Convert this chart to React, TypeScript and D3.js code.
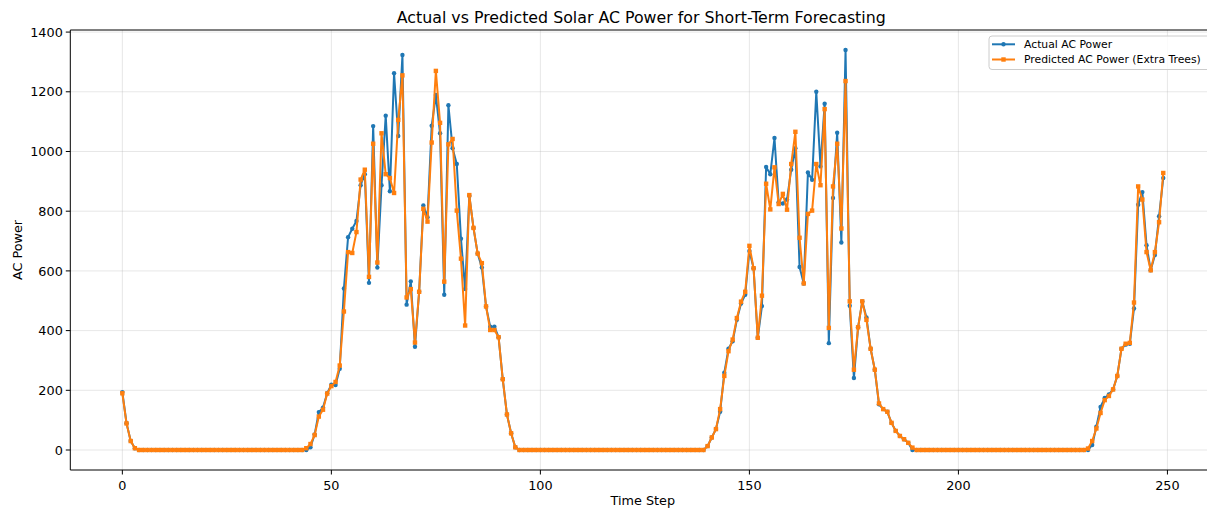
import React from "react";
import * as d3 from "d3";

// Actual AC power per time step (0..249)
const actualPower: number[] = [
  194, 90, 30, 6, 0, 0, 0, 0, 0, 0, // 0-9
  0, 0, 0, 0, 0, 0, 0, 0, 0, 0, // 10-19
  0, 0, 0, 0, 0, 0, 0, 0, 0, 0, // 20-29
  0, 0, 0, 0, 0, 0, 0, 0, 0, 0, // 30-39
  0, 0, 0, 0, 0, 9, 52, 127, 142, 190, // 40-49
  219, 218, 272, 541, 713, 741, 767, 887, 924, 560, // 50-59
  1085, 611, 887, 1120, 867, 1262, 1052, 1323, 487, 565, // 60-69
  346, 530, 819, 780, 1086, 1189, 1061, 520, 1155, 1011, // 70-79
  958, 708, 539, 852, 744, 658, 611, 481, 413, 413, // 80-89
  378, 237, 119, 56, 9, 0, 0, 0, 0, 0, // 90-99
  0, 0, 0, 0, 0, 0, 0, 0, 0, 0, // 100-109
  0, 0, 0, 0, 0, 0, 0, 0, 0, 0, // 110-119
  0, 0, 0, 0, 0, 0, 0, 0, 0, 0, // 120-129
  0, 0, 0, 0, 0, 0, 0, 0, 0, 0, // 130-139
  13, 42, 70, 128, 259, 339, 364, 436, 491, 520, // 140-149
  667, 609, 376, 482, 948, 924, 1045, 830, 826, 839, // 150-159
  939, 1011, 613, 558, 930, 905, 1200, 950, 1160, 358, // 160-169
  844, 1063, 695, 1340, 483, 241, 411, 498, 444, 339, // 170-179
  269, 153, 137, 128, 91, 64, 47, 36, 24, 0, // 180-189
  0, 0, 0, 0, 0, 0, 0, 0, 0, 0, // 190-199
  0, 0, 0, 0, 0, 0, 0, 0, 0, 0, // 200-209
  0, 0, 0, 0, 0, 0, 0, 0, 0, 0, // 210-219
  0, 0, 0, 0, 0, 0, 0, 0, 0, 0, // 220-229
  0, 0, 17, 78, 144, 174, 186, 203, 248, 339, // 230-239
  353, 356, 474, 822, 864, 686, 602, 653, 783, 911, // 240-249
];

// Predicted AC power (Extra Trees) per time step
const predictedPower: number[] = [
  190, 89, 30, 6, 0, 0, 0, 0, 0, 0, // 0-9
  0, 0, 0, 0, 0, 0, 0, 0, 0, 0, // 10-19
  0, 0, 0, 0, 0, 0, 0, 0, 0, 0, // 20-29
  0, 0, 0, 0, 0, 0, 0, 0, 0, 0, // 30-39
  0, 0, 0, 0, 6, 20, 50, 112, 135, 189, // 40-49
  214, 228, 283, 464, 663, 660, 730, 906, 939, 580, // 50-59
  1026, 628, 1061, 924, 911, 861, 1106, 1255, 511, 539, // 60-69
  360, 530, 808, 765, 1030, 1270, 1096, 564, 1024, 1042, // 70-79
  802, 641, 417, 854, 744, 658, 626, 481, 402, 402, // 80-89
  378, 237, 119, 56, 9, 0, 0, 0, 0, 0, // 90-99
  0, 0, 0, 0, 0, 0, 0, 0, 0, 0, // 100-109
  0, 0, 0, 0, 0, 0, 0, 0, 0, 0, // 110-119
  0, 0, 0, 0, 0, 0, 0, 0, 0, 0, // 120-129
  0, 0, 0, 0, 0, 0, 0, 0, 0, 0, // 130-139
  13, 42, 70, 137, 248, 331, 370, 442, 497, 530, // 140-149
  684, 609, 376, 517, 892, 806, 947, 824, 858, 805, // 150-159
  958, 1066, 711, 558, 791, 802, 958, 887, 1142, 409, // 160-169
  883, 1026, 742, 1236, 498, 269, 411, 498, 436, 339, // 170-179
  269, 156, 137, 128, 91, 64, 47, 36, 24, 8, // 180-189
  0, 0, 0, 0, 0, 0, 0, 0, 0, 0, // 190-199
  0, 0, 0, 0, 0, 0, 0, 0, 0, 0, // 200-209
  0, 0, 0, 0, 0, 0, 0, 0, 0, 0, // 210-219
  0, 0, 0, 0, 0, 0, 0, 0, 0, 0, // 220-229
  0, 5, 30, 72, 124, 167, 181, 203, 248, 339, // 230-239
  356, 359, 494, 883, 839, 663, 602, 663, 763, 928, // 240-249
];

const xTicks = [0, 50, 100, 150, 200, 250];
const yTicks = [0, 200, 400, 600, 800, 1000, 1200, 1400];
const seriesNames = ["Actual AC Power", "Predicted AC Power (Extra Trees)"];
const titleText = "Actual vs Predicted Solar AC Power for Short-Term Forecasting";
const xLabel = "Time Step";
const yLabel = "AC Power";

const W = 1207;
const H = 511;
const FONT = "DejaVu Sans, sans-serif";
const BLUE = "#1f77b4";
const ORANGE = "#ff7f0e";

export default function App() {
  const n = actualPower.length;
  const left = 70.3;
  const right = 1215.3;
  const top = 30;
  const bottom = 470;

  const xPad = (n - 1) * 0.05;
  const x = d3.scaleLinear().domain([-xPad, n - 1 + xPad]).range([left, right]);
  const allVals = [...actualPower, ...predictedPower];
  const yMin = d3.min(allVals) as number;
  const yMax = d3.max(allVals) as number;
  const yPad = (yMax - yMin) * 0.05;
  const y = d3.scaleLinear().domain([yMin - yPad, yMax + yPad]).range([bottom, top]);

  const line = d3
    .line<number>()
    .x((_, i) => x(i))
    .y((d) => y(d));

  const clipId = "plotclip";

  return (
    <div style={{ position: "absolute", left: 0, top: 0, width: W, height: H, background: "#fff" }}>
      <svg width={W} height={H} style={{ display: "block" }} fontFamily={FONT}>
        <rect x={0} y={0} width={W} height={H} fill="#fff" />
        <defs>
          <clipPath id={clipId}>
            <rect x={left} y={top} width={right - left} height={bottom - top} />
          </clipPath>
        </defs>
        {/* grid */}
        <g stroke="#b0b0b0" strokeOpacity={0.3} strokeWidth={1}>
          {xTicks.map((t) => (
            <line key={"gx" + t} x1={x(t)} x2={x(t)} y1={top} y2={bottom} />
          ))}
          {yTicks.map((t) => (
            <line key={"gy" + t} x1={left} x2={right} y1={y(t)} y2={y(t)} />
          ))}
        </g>
        {/* series */}
        <g clipPath={`url(#${clipId})`}>
          <path d={line(actualPower) || ""} fill="none" stroke={BLUE} strokeWidth={2} strokeLinejoin="round" />
          {actualPower.map((v, i) => (
            <circle key={"a" + i} cx={x(i)} cy={y(v)} r={2.2} fill={BLUE} />
          ))}
          <path d={line(predictedPower) || ""} fill="none" stroke={ORANGE} strokeWidth={2} strokeLinejoin="round" />
          {predictedPower.map((v, i) => (
            <rect key={"p" + i} x={x(i) - 2.2} y={y(v) - 2.2} width={4.4} height={4.4} fill={ORANGE} />
          ))}
        </g>
        {/* spines */}
        <g stroke="#000" strokeWidth={1} fill="none">
          <line x1={left} x2={left} y1={top} y2={bottom} />
          <line x1={left} x2={right} y1={bottom} y2={bottom} />
          <line x1={left} x2={right} y1={top} y2={top} />
          <line x1={right} x2={right} y1={top} y2={bottom} />
        </g>
        {/* x ticks */}
        {xTicks.map((t) => (
          <g key={"xt" + t}>
            <line x1={x(t)} x2={x(t)} y1={bottom} y2={bottom + 4.5} stroke="#000" strokeWidth={1} />
            <text x={x(t)} y={bottom + 19.5} textAnchor="middle" fontSize={12.8} fill="#000">
              {t}
            </text>
          </g>
        ))}
        {/* y ticks */}
        {yTicks.map((t) => (
          <g key={"yt" + t}>
            <line x1={left - 4.5} x2={left} y1={y(t)} y2={y(t)} stroke="#000" strokeWidth={1} />
            <text x={left - 7.5} y={y(t)} dy="0.36em" textAnchor="end" fontSize={12.8} fill="#000">
              {t}
            </text>
          </g>
        ))}
        {/* labels */}
        <text x={(left + right) / 2} y={505} textAnchor="middle" fontSize={12.8} fill="#000">
          {xLabel}
        </text>
        <text
          transform={`translate(21.5, ${(top + bottom) / 2}) rotate(-90)`}
          textAnchor="middle"
          fontSize={12.8}
          fill="#000"
        >
          {yLabel}
        </text>
        <text x={(left + right) / 2 - 1.5} y={22.5} textAnchor="middle" fontSize={15.8} fill="#000">
          {titleText}
        </text>
        {/* legend */}
        <g>
          <rect x={989} y={36} width={221} height={33.5} rx={3} fill="#fff" fillOpacity={0.8} stroke="#cccccc" strokeWidth={1} />
          {seriesNames.map((name, k) => {
            const cy = k === 0 ? 44.3 : 59.5;
            const col = k === 0 ? BLUE : ORANGE;
            return (
              <g key={name}>
                <line x1={992} x2={1015} y1={cy} y2={cy} stroke={col} strokeWidth={2} />
                {k === 0 ? (
                  <circle cx={1003.5} cy={cy} r={2.2} fill={col} />
                ) : (
                  <rect x={1003.5 - 2.2} y={cy - 2.2} width={4.4} height={4.4} fill={col} />
                )}
                <text x={1024} y={cy} dy="0.36em" fontSize={10.8} fill="#000">
                  {name}
                </text>
              </g>
            );
          })}
        </g>
      </svg>
    </div>
  );
}
